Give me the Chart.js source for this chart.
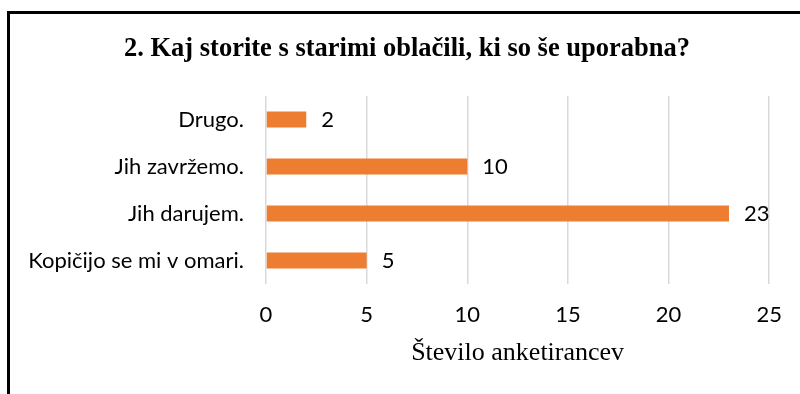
<!DOCTYPE html>
<html>
<head>
<meta charset="utf-8">
<script src="https://cdn.jsdelivr.net/npm/chart.js@4/dist/chart.umd.min.js"></script>
<style>
    body { margin: 0; background: #fff; overflow: hidden; }
    #wrap { position: absolute; left: 0; top: 0; width: 800px; height: 394px; }
    #frame {
        position: absolute; left: 7px; top: 11px; width: 900px; height: 500px;
        border-left: 3px solid #000; border-top: 3px solid #000;
        pointer-events: none;
    }
</style>
</head>
<body>
<div id="wrap"><canvas id="bar-chart" width="800" height="394"></canvas></div>
<div id="frame"></div>
<script>
const chartTitle = "2. Kaj storite s starimi oblačili, ki so še uporabna?";
const categories = ["Drugo.", "Jih zavržemo.", "Jih darujem.", "Kopičijo se mi v omari."];
const answers = [2, 10, 23, 5];
const xTicks = [0, 5, 10, 15, 20, 25];

const sansFont = "Lato, 'Open Sans', sans-serif";
const serifFont = "'Liberation Serif', 'Times New Roman', serif";
const labelSize = 22;

// value labels to the right of each bar
const barValues = {
    id: "barValues",
    afterDatasetsDraw(chart) {
        const ctx = chart.ctx;
        const meta = chart.getDatasetMeta(0);
        ctx.save();
        ctx.font = labelSize + "px " + sansFont;
        ctx.fillStyle = "#000";
        ctx.textAlign = "left";
        ctx.textBaseline = "middle";
        meta.data.forEach((bar, i) => {
            ctx.fillText(String(answers[i]), bar.x + 15, bar.y);
        });
        ctx.restore();
    },
};

// title centred on the framed box (frame starts a few px in from the left)
const boxTitle = {
    id: "boxTitle",
    afterDraw(chart) {
        const ctx = chart.ctx;
        ctx.save();
        ctx.font = "bold 26.5px " + serifFont;
        ctx.fillStyle = "#000";
        ctx.textAlign = "center";
        ctx.textBaseline = "middle";
        ctx.fillText(chartTitle, chart.width / 2 + 7, 49);
        ctx.restore();
    },
};

document.addEventListener("DOMContentLoaded", () => {
    const el = document.getElementById("bar-chart");
    new Chart(el, {
        type: "bar",
        data: {
            labels: categories,
            datasets: [
                {
                    label: "Število anketirancev",
                    data: answers,
                    backgroundColor: "#ED7D31",
                    barPercentage: 0.34,
                    categoryPercentage: 1,
                },
            ],
        },
        options: {
            indexAxis: "y",
            responsive: false,
            animation: false,
            layout: { padding: { left: 0, right: 29, top: 96, bottom: 20 } },
            scales: {
                x: {
                    min: 0,
                    max: 25,
                    afterBuildTicks: (scale) => {
                        scale.ticks = xTicks.map((v) => ({ value: v }));
                    },
                    afterFit: (scale) => {
                        scale.height = 90;
                    },
                    grid: { color: "#d9d9d9", lineWidth: 1.5, drawTicks: false },
                    border: { display: false },
                    ticks: {
                        padding: 18,
                        color: "#000",
                        font: { family: sansFont, size: labelSize },
                    },
                    title: {
                        display: true,
                        text: "Število anketirancev",
                        color: "#000",
                        font: { family: serifFont, size: 26 },
                        padding: { top: 0, bottom: 5 },
                    },
                },
                y: {
                    afterFit: (scale) => {
                        scale.width = 266;
                    },
                    grid: { display: false, drawTicks: false },
                    border: { display: false },
                    ticks: {
                        padding: 22,
                        color: "#000",
                        font: { family: sansFont, size: labelSize },
                    },
                },
            },
            plugins: {
                legend: { display: false },
                tooltip: { enabled: false },
                title: { display: false },
            },
        },
        plugins: [barValues, boxTitle],
    });
});
</script>
</body>
</html>
